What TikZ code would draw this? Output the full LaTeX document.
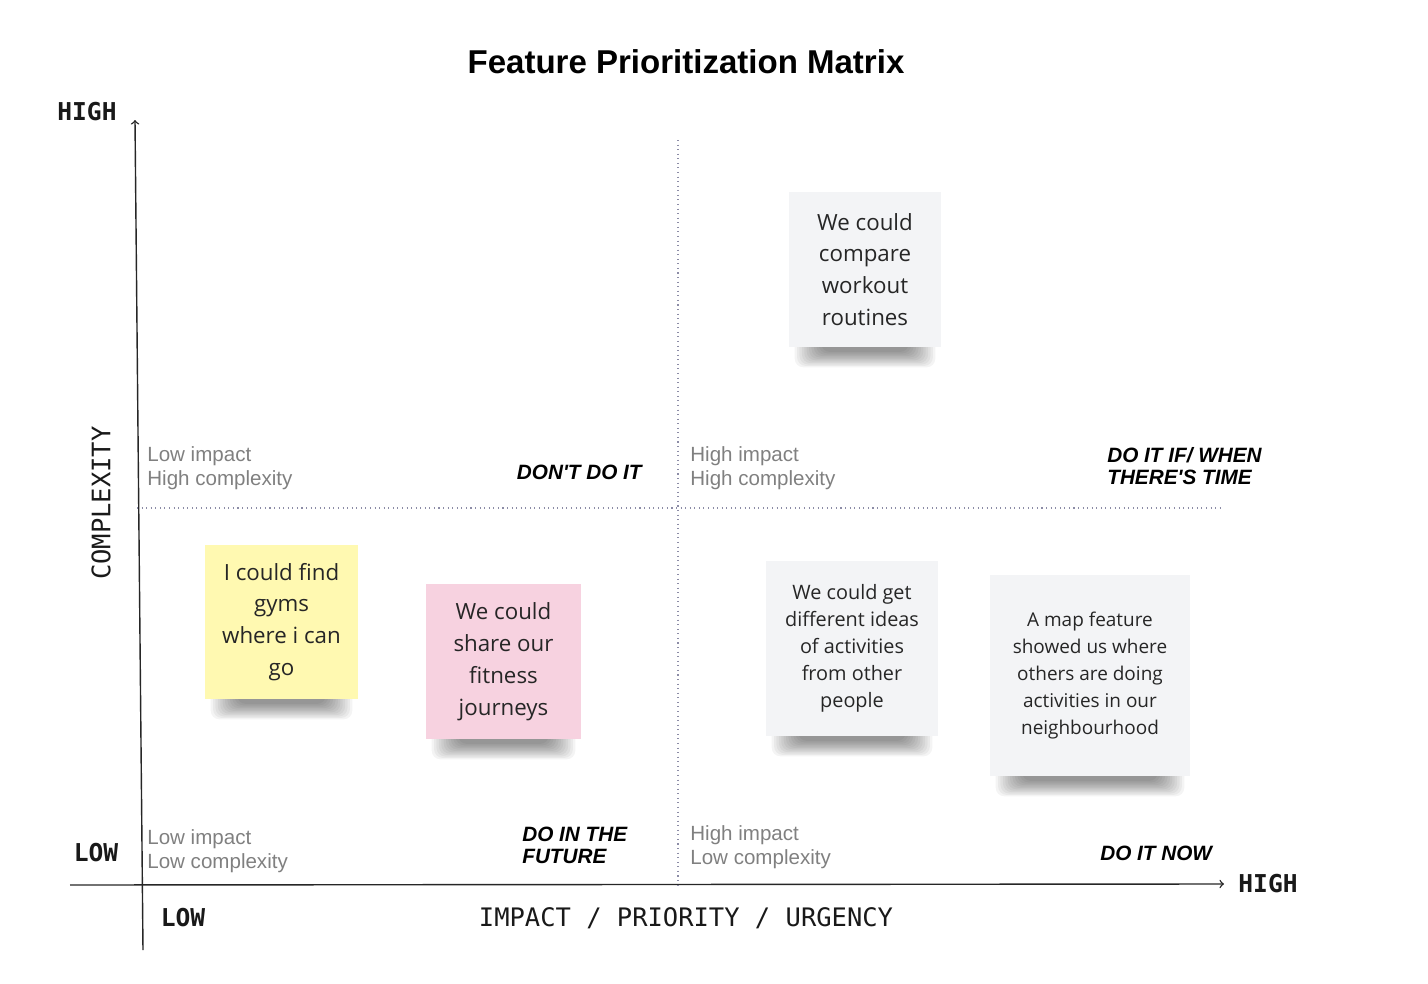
\documentclass[tikz,border=0pt]{standalone}
\usepackage{fontspec}
\setmainfont{Liberation Sans}
\newfontfamily\notefont{Open Sans}
\newfontfamily\axisfont{DejaVu Sans Mono}
\usetikzlibrary{arrows,positioning,calc,backgrounds}
\definecolor{notegray}{HTML}{F3F4F6}
\definecolor{noteyellow}{HTML}{FFF9B1}
\definecolor{notepink}{HTML}{F7D2E0}
\definecolor{hintgray}{HTML}{808080}
\definecolor{quadgray}{HTML}{8C8CA6}
\tikzstyle{axis}=[->,>=to,draw=black!85,line width=0.8pt]
\tikzstyle{quadline}=[draw=quadgray,dotted,line width=0.6pt]
\tikzstyle{hint}=[text=hintgray,font=\fontsize{11.7}{13.6}\selectfont,align=left,inner sep=0pt,anchor=west]
\tikzstyle{verdict}=[font=\fontsize{11.8}{12.5}\selectfont\bfseries\itshape,align=left,inner sep=0pt]
\tikzstyle{axislabel}=[font=\axisfont\fontsize{14.5}{17}\selectfont,text=black!90,inner sep=0pt]
\tikzstyle{endlabel}=[font=\axisfont\bfseries\fontsize{14}{17}\selectfont,text=black!90,inner sep=0pt]
\tikzstyle{sticky}=[font=\notefont\fontsize{12.7}{18.1}\selectfont,text=black!85,align=center,inner sep=0pt]
\tikzstyle{smallsticky}=[sticky,font=\notefont\fontsize{11.3}{15.3}\selectfont]
\tikzstyle{curl}=[black,opacity=0.045,rounded corners=5pt]

\begin{document}
\begin{tikzpicture}[x=0.02cm,y=-0.02cm]
    \useasboundingbox (0,0) rectangle (1428,984);

    \node[font=\bfseries\fontsize{18.8}{22}\selectfont] (title) at (686,62) {Feature Prioritization Matrix};

    % axes
    \coordinate (xstart) at (70,885);
    \coordinate (xend) at (1224,884);
    \coordinate (ystart) at (143,950);
    \coordinate (yend) at (135,120);
    \draw[axis] (xstart) -- (xend);
    \draw[axis] (ystart) -- (yend);

    % quadrant lines
    \coordinate (vtop) at (678,140);
    \coordinate (vbot) at (678,885);
    \coordinate (hleft) at (137,508);
    \coordinate (hright) at (1224,508);
    \draw[quadline] (vtop) -- (vbot);
    \draw[quadline] (hleft) -- (hright);

    \node[endlabel] (yhigh) at (87,112) {HIGH};
    \node[endlabel] (ylow) at (96,853) {LOW};
    \node[endlabel] (xlow) at (183,918) {LOW};
    \node[endlabel, right=8pt of xend] (xhigh) {HIGH};
    \node[axislabel] (xlabel) at (686,918) {IMPACT / PRIORITY / URGENCY};
    \node[axislabel, rotate=90] (ylabel) at (101,503) {COMPLEXITY};

    % quadrant texts
    \node[hint] (q1hint) at (147,468) {Low impact\\High complexity};
    \node[verdict, anchor=east] (q1name) at (642,472) {DON\textquotesingle T DO IT};
    \node[hint] (q2hint) at (690,468) {High impact\\High complexity};
    \node[verdict, anchor=west] (q2name) at (1107,466.5) {DO IT IF/ WHEN\\THERE\textquotesingle S TIME};
    \node[hint] (q3hint) at (147,851) {Low impact\\Low complexity};
    \node[verdict, anchor=west] (q3name) at (522,845.5) {DO IN THE\\FUTURE};
    \node[hint] (q4hint) at (690,847) {High impact\\Low complexity};
    \node[verdict, anchor=west] (q4name) at (1100,853) {DO IT NOW};

    % sticky notes
    \node[sticky, fill=notegray, minimum width=3.04cm, minimum height=3.1cm] (compare) at (865,269.5)
        {We could\\compare\\workout\\routines};
    \node[sticky, fill=noteyellow, minimum width=3.06cm, minimum height=3.08cm] (gyms) at (281.5,622)
        {I could find\\gyms\\where i can\\go};
    \node[sticky, fill=notepink, minimum width=3.1cm, minimum height=3.1cm] (share) at (503.5,661.5)
        {We could\\share our\\fitness\\journeys};
    \node[smallsticky, fill=notegray, minimum width=3.44cm, minimum height=3.5cm] (ideas) at (852,648.5)
        {We could get\\different ideas\\of activities\\from other\\people};
    \node[smallsticky, fill=notegray, font=\notefont\fontsize{10.8}{15.3}\selectfont, minimum width=4cm, minimum height=4.02cm] (map) at (1090,675.5)
        {A map feature\\showed us where\\others are doing\\activities in our\\neighbourhood};

    % shadows under the notes
    \begin{scope}[on background layer]
    \foreach \n in {compare,gyms,share,ideas,map}
        \foreach \k in {0,...,11}
            \fill[curl] ($(\n.south west)+(6+\k*2.4,-10)$) rectangle ($(\n.south east)+(-6-\k*2.4,20-\k*1.4)$);
    \end{scope}
\end{tikzpicture}
\end{document}
